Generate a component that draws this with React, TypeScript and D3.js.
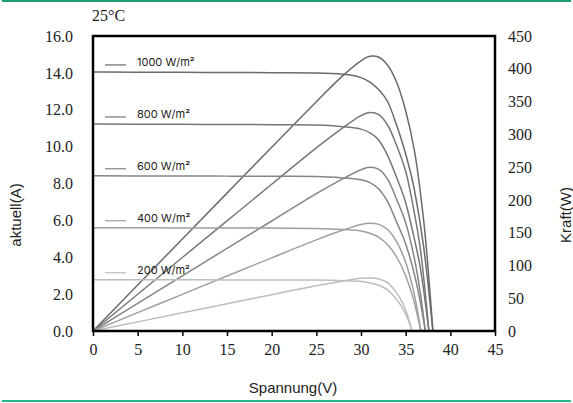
import { useEffect, useRef } from "react";
import * as d3 from "d3";

// Voltage (V), current (A) and power (W) per irradiance
const irradiances = ["1000 W/m²", "800 W/m²", "600 W/m²", "400 W/m²", "200 W/m²"];
const lineColors = ["#6b6b6b", "#777777", "#858585", "#9f9f9f", "#bdbdbd"];

const volt1000 = [0, 5, 10, 15, 20, 25, 28, 30, 31, 32, 33, 34, 35, 36, 37, 37.5, 38.05];
const amp1000 = [14.05, 14.04, 14.03, 14.02, 14.01, 13.99, 13.93, 13.74, 13.5, 13.08, 12.42, 11.15, 9.6, 7.6, 4.6, 2.6, 0];
const watt1000 = [0, 70.2, 140.3, 210.3, 280.2, 349.8, 390.0, 412.2, 419.0, 417.5, 405.0, 379.1, 336.0, 273.6, 170.2, 97.5, 0];

const volt800 = [0, 5, 10, 15, 20, 25, 28, 30, 31, 32, 33, 34, 35, 36, 36.6, 37.1, 37.6];
const amp800 = [11.23, 11.22, 11.21, 11.2, 11.19, 11.17, 11.08, 10.95, 10.75, 10.35, 9.5, 8.31, 6.96, 4.94, 3.54, 1.91, 0];
const watt800 = [0, 56.1, 112.1, 168.0, 223.8, 279.3, 310.2, 328.5, 333.3, 330.0, 313.5, 282.5, 243.6, 177.8, 129.6, 70.9, 0];

const volt600 = [0, 5, 10, 15, 20, 25, 28, 30, 31, 32, 33, 34, 35, 36, 36.7, 37.2];
const amp600 = [8.42, 8.41, 8.41, 8.4, 8.39, 8.38, 8.3, 8.2, 8.05, 7.7, 7.0, 5.89, 4.72, 3.03, 1.43, 0];
const watt600 = [0, 42.1, 84.1, 126.0, 167.8, 209.5, 232.4, 246.0, 249.6, 246.4, 231.0, 200.3, 165.2, 109.1, 52.5, 0];

const volt400 = [0, 5, 10, 15, 20, 25, 28, 30, 31, 32, 33, 34, 35, 35.7, 36.2, 36.7];
const amp400 = [5.6, 5.6, 5.59, 5.59, 5.58, 5.56, 5.5, 5.42, 5.3, 5.08, 4.68, 4.0, 3.0, 2.0, 1.1, 0];
const watt400 = [0, 28.0, 55.9, 83.9, 111.6, 139.0, 154.0, 162.6, 164.3, 162.6, 154.4, 136.0, 105.0, 71.4, 39.8, 0];

const volt200 = [0, 5, 10, 15, 20, 25, 28, 30, 31, 32, 33, 34, 34.7, 35.2, 35.7];
const amp200 = [2.78, 2.78, 2.78, 2.77, 2.77, 2.76, 2.73, 2.68, 2.61, 2.48, 2.22, 1.7, 1.2, 0.7, 0];
const watt200 = [0, 13.9, 27.8, 41.6, 55.4, 69.0, 76.4, 80.4, 80.9, 79.4, 73.3, 57.8, 41.6, 24.6, 0];

const volts = [volt1000, volt800, volt600, volt400, volt200];
const amps = [amp1000, amp800, amp600, amp400, amp200];
const watts = [watt1000, watt800, watt600, watt400, watt200];

const xTicks = [0, 5, 10, 15, 20, 25, 30, 35, 40, 45];
const ampTicks = [0, 2, 4, 6, 8, 10, 12, 14, 16];
const wattTicks = [0, 50, 100, 150, 200, 250, 300, 350, 400, 450];

export default function App() {
  const ref = useRef<SVGSVGElement>(null);

  useEffect(() => {
    if (!ref.current) return;
    const svg = d3.select(ref.current);
    svg.selectAll("*").remove();

    const width = 573;
    const height = 403;
    const margin = { top: 36, right: 78, bottom: 72, left: 93 };
    const serif = "'Liberation Serif', 'Times New Roman', serif";
    const sans = "'Liberation Sans', Arial, sans-serif";

    const x = d3.scaleLinear().domain([0, 45]).range([margin.left, width - margin.right]);
    const yA = d3.scaleLinear().domain([0, 16]).range([height - margin.bottom, margin.top]);
    const yW = d3.scaleLinear().domain([0, 450]).range([height - margin.bottom, margin.top]);

    // green rules top and bottom
    svg.append("line").attr("x1", 2).attr("x2", 571).attr("y1", 1).attr("y2", 1)
      .attr("stroke", "#1f9d72").attr("stroke-width", 2);
    svg.append("line").attr("x1", 2).attr("x2", 571).attr("y1", 401).attr("y2", 401)
      .attr("stroke", "#2ab58e").attr("stroke-width", 2);

    // curves
    volts.forEach((vs, i) => {
      const ivPts = vs.map((v, k) => [v, amps[i][k]] as [number, number]);
      const pvPts = vs.map((v, k) => [v, watts[i][k]] as [number, number]);
      const ivLine = d3.line<[number, number]>()
        .x((d) => x(d[0])).y((d) => yA(d[1])).curve(d3.curveMonotoneX);
      const pvLine = d3.line<[number, number]>()
        .x((d) => x(d[0])).y((d) => yW(d[1])).curve(d3.curveCatmullRom.alpha(0.5));
      svg.append("path").attr("d", ivLine(ivPts)).attr("fill", "none")
        .attr("stroke", lineColors[i]).attr("stroke-width", 1.5);
      svg.append("path").attr("d", pvLine(pvPts)).attr("fill", "none")
        .attr("stroke", lineColors[i]).attr("stroke-width", 1.5);

      // legend entry sits just above its own current line
      const ly = yA(amps[i][0]) - 7;
      svg.append("line").attr("x1", 105).attr("x2", 126).attr("y1", ly).attr("y2", ly)
        .attr("stroke", lineColors[i]).attr("stroke-width", 1.2);
      svg.append("text").attr("x", 137).attr("y", ly + 1.5)
        .attr("font-family", "Inter, 'Noto Sans', sans-serif").attr("font-size", 11)
        .attr("fill", "#222").text(irradiances[i]);
    });

    // plot frame
    svg.append("rect")
      .attr("x", margin.left).attr("y", margin.top)
      .attr("width", width - margin.left - margin.right)
      .attr("height", height - margin.top - margin.bottom)
      .attr("fill", "none").attr("stroke", "#000").attr("stroke-width", 2.5);

    // bottom ticks
    const xAxis = svg.append("g")
      .attr("transform", `translate(0,${height - margin.bottom})`)
      .call(d3.axisBottom(x).tickValues(xTicks).tickSize(5).tickPadding(8).tickFormat(d3.format("d")));
    xAxis.select(".domain").remove();
    xAxis.selectAll("line").attr("stroke-width", 1.5);
    xAxis.selectAll("text").attr("font-family", serif).attr("font-size", 16).attr("fill", "#222");

    // left labels
    const leftAxis = svg.append("g")
      .attr("transform", `translate(${margin.left},0)`)
      .call(d3.axisLeft(yA).tickValues(ampTicks).tickSize(0).tickPadding(20).tickFormat(d3.format(".1f")));
    leftAxis.select(".domain").remove();
    leftAxis.selectAll("text").attr("font-family", serif).attr("font-size", 16).attr("fill", "#222");

    // right labels
    const rightAxis = svg.append("g")
      .attr("transform", `translate(${width - margin.right},0)`)
      .call(d3.axisRight(yW).tickValues(wattTicks).tickSize(0).tickPadding(13).tickFormat(d3.format("d")));
    rightAxis.select(".domain").remove();
    rightAxis.selectAll("text").attr("font-family", serif).attr("font-size", 16).attr("fill", "#222");

    // titles
    svg.append("text").attr("x", 92).attr("y", 21)
      .attr("font-family", serif).attr("font-size", 16).attr("fill", "#222").text("25°C");
    svg.append("text").attr("x", 293).attr("y", 393).attr("text-anchor", "middle")
      .attr("font-family", sans).attr("font-size", 15).attr("fill", "#222").text("Spannung(V)");
    svg.append("text").attr("transform", "translate(21,215) rotate(-90)").attr("text-anchor", "middle")
      .attr("font-family", sans).attr("font-size", 15).attr("fill", "#222").text("aktuell(A)");
    svg.append("text").attr("transform", "translate(571,215) rotate(-90)").attr("text-anchor", "middle")
      .attr("font-family", sans).attr("font-size", 15).attr("fill", "#222").text("Kraft(W)");
  }, []);

  return (
    <div style={{ position: "absolute", left: 0, top: 0 }}>
      <svg ref={ref} width={573} height={403} style={{ display: "block", background: "#fff" }} />
    </div>
  );
}
